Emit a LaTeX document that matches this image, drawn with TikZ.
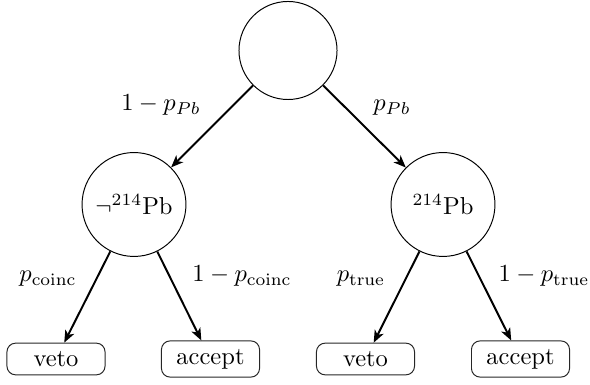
\documentclass[tikz,border=0pt]{standalone}
\usetikzlibrary{arrows.meta}
\begin{document}
\begin{tikzpicture}[x=0.408pt,y=-0.408pt,
  state/.style={circle,draw,minimum size=42.4pt,inner sep=0pt},
  topstate/.style={circle,draw,minimum size=40pt,inner sep=0pt},
  outcome/.style={draw=black!85,rounded corners=3.5pt,minimum width=40pt,inner sep=0.333em},
  branch/.style={thick,-{Stealth[length=5pt,width=4pt,inset=1.4pt]}},
  prob/.style={anchor=base}]
\useasboundingbox (0,0) rectangle (590,385);
\node[topstate] (root) at (288,50.5) {};
\node[state] (nopb) at (134,204.5) {$\neg^{214}$Pb};
\node[state] (pb) at (443,204.5) {$^{214}$Pb};
\node[outcome] (veto1) at (56,359) {veto};
\node[outcome] (acc1) at (210.5,359) {accept};
\node[outcome] (veto2) at (365.5,359) {veto};
\node[outcome] (acc2) at (520.5,359) {accept};
\draw[branch] (root) -- (nopb);
\draw[branch] (root) -- (pb);
\draw[branch] (nopb) -- (veto1);
\draw[branch] (nopb) -- (acc1);
\draw[branch] (pb) -- (veto2);
\draw[branch] (pb) -- (acc2);
\node[prob] (l1) at (161,111) {$1-p_{Pb}$};
\node[prob] (l2) at (392,111) {$p_{Pb}$};
\node[prob] (l3) at (48,282) {$p_{\mathrm{coinc}}$};
\node[prob] (l4) at (242,282) {$1-p_{\mathrm{coinc}}$};
\node[prob] (l5) at (361,282) {$p_{\mathrm{true}}$};
\node[prob] (l6) at (544,282) {$1-p_{\mathrm{true}}$};
\end{tikzpicture}
\end{document}
